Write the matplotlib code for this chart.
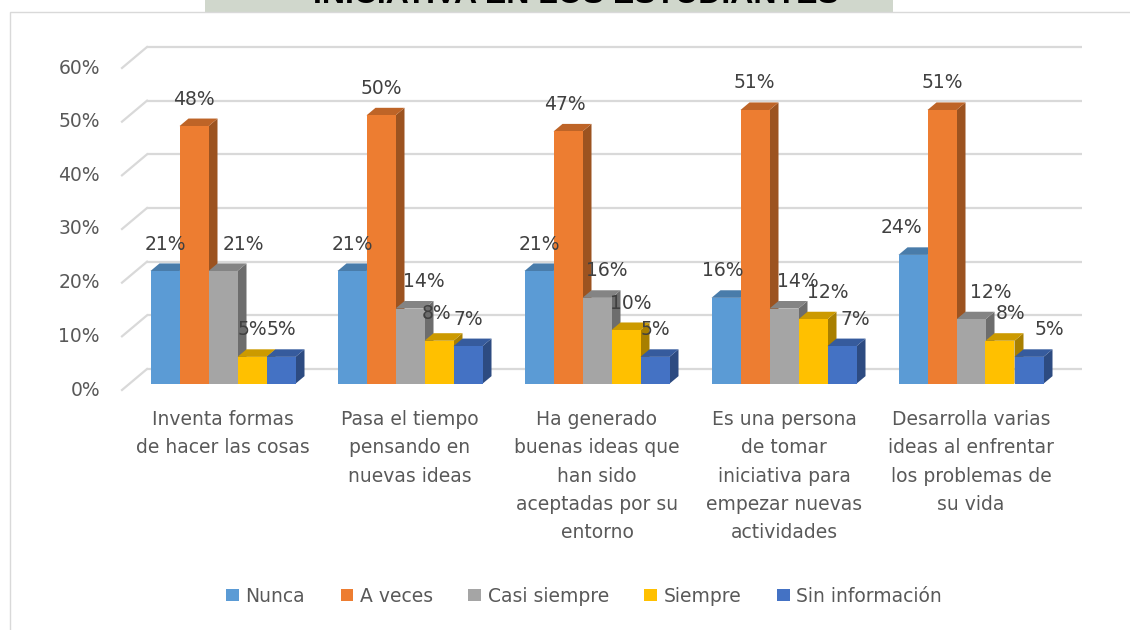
import numpy as np
import matplotlib
matplotlib.use("Agg")
import matplotlib.pyplot as plt
from matplotlib.patches import Polygon, Rectangle, Patch

# Data
categories = ["Inventa formas\nde hacer las cosas",
              "Pasa el tiempo\npensando en\nnuevas ideas",
              "Ha generado\nbuenas ideas que\nhan sido\naceptadas por su\nentorno",
              "Es una persona\nde tomar\niniciativa para\nempezar nuevas\nactividades",
              "Desarrolla varias\nideas al enfrentar\nlos problemas de\nsu vida"]
series = ["Nunca", "A veces", "Casi siempre", "Siempre", "Sin información"]
nunca = [21, 21, 21, 16, 24]
a_veces = [48, 50, 47, 51, 51]
casi_siempre = [21, 14, 16, 14, 12]
siempre = [5, 8, 10, 12, 8]
sin_info = [5, 7, 5, 7, 5]
yticks = [0, 10, 20, 30, 40, 50, 60]

values = [nunca, a_veces, casi_siempre, siempre, sin_info]
colors = ["#5B9BD5", "#ED7D31", "#A5A5A5", "#FFC000", "#4472C4"]

# label nudges (pixels), like Excel moved them to avoid overlaps
nudge = [[0, 0, 0, -3, -12],
         [0, 0, -3, -1, 0],
         [20, 14, 10, 14, 20],
         [0, -2, 5, 15, 11],
         [0, 0, 0, 13, 20]]

def shade(c, f):
    r, g, b = matplotlib.colors.to_rgb(c)
    return (r * f, g * f, b * f)

W, H = 1130, 630
fig = plt.figure(figsize=(W / 100, H / 100), dpi=100)
fig.patch.set_facecolor("white")

# faded header image strip with the cut title
fig.patches.append(Rectangle((205 / W, 1 - 12 / H), 688 / W, 12 / H,
                             transform=fig.transFigure, facecolor="#d0d7cc",
                             edgecolor="none", zorder=-2))
fig.text(576 / W, 1 - 3 / H, "INICIATIVA EN LOS ESTUDIANTES", ha="center",
         va="baseline", fontsize=23, fontweight="bold",
         family="Liberation Sans", color="black", zorder=-1)
# chart border
fig.patches.append(Rectangle((10 / W, -0.01), 1.02, 1 - 12 / H + 0.01,
                             transform=fig.transFigure, facecolor="white",
                             edgecolor="#d9d9d9", lw=1, zorder=-0.5))

# front plane of the 3d box
px_left, px_right, px_top, px_bot = 122, 1057, 68, 390
ax = fig.add_axes([px_left / W, 1 - px_bot / H, (px_right - px_left) / W,
                   (px_bot - px_top) / H])
ax.set_xlim(0, 5)
ax.set_ylim(0, 60)
ax.axis("off")
ax.patch.set_alpha(0)

xpx = (px_right - px_left) / 5.0
ypx = (px_bot - px_top) / 60.0
DX = 25 / xpx       # depth offset of the back wall
DY = 21 / ypx
d0, d1 = 0.3, 0.66  # bar front / back depth
w = 29 / xpx

# gridlines on back wall + left wall diagonals
for t in yticks:
    ax.plot([DX, 5 + DX], [t + DY, t + DY], color="#d9d9d9", lw=1.6,
            clip_on=False, zorder=1, solid_capstyle="butt")
    ax.plot([0, DX], [t, t + DY], color="#d9d9d9", lw=1.6,
            clip_on=False, zorder=1)
    ax.text(-22 / xpx, t, f"{t}%", ha="right", va="center", fontsize=13.5,
            color="#595959", family="DejaVu Sans")

base = d0 * DY
dx = (d1 - d0) * DX
dy = (d1 - d0) * DY
z = 2
for i in range(len(categories)):
    for j in range(len(series)):
        v = values[j][i]
        xl = i + 0.5 - 2.5 * w + j * w + d0 * DX
        c = colors[j]
        side = Polygon([(xl + w, base), (xl + w, base + v),
                        (xl + w + dx, base + v + dy), (xl + w + dx, base + dy)],
                       closed=True, facecolor=shade(c, 0.66), edgecolor="none",
                       zorder=z, clip_on=False)
        top = Polygon([(xl, base + v), (xl + w, base + v),
                       (xl + w + dx, base + v + dy), (xl + dx, base + v + dy)],
                      closed=True, facecolor=shade(c, 0.8), edgecolor="none",
                      zorder=z, clip_on=False)
        ax.add_patch(side)
        ax.add_patch(top)
        ax.bar(xl, v, width=w, bottom=base, align="edge", color=c,
               zorder=z + 0.5, clip_on=False)
        z += 1
        ax.text(xl + w / 2 + nudge[j][i] / xpx, base + v + 27 / ypx, f"{v}%",
                ha="center", va="center", fontsize=13.5, color="#404040",
                family="DejaVu Sans", zorder=200)
    ax.text(i + 0.5 + d0 * DX, base - 26 / ypx, categories[i], ha="center",
            va="top", fontsize=13.5, color="#595959", family="DejaVu Sans",
            linespacing=1.63)

handles = [Patch(facecolor=c, edgecolor="none") for c in colors]
fig.legend(handles, series, loc="center", bbox_to_anchor=(584 / W, 1 - 596 / H),
           ncol=5, frameon=False, handlelength=0.67,
           handleheight=0.67, handletextpad=0.35, columnspacing=1.9,
           labelcolor="#595959", prop={"family": "DejaVu Sans", "size": 13.5})

fig.savefig("out.png", dpi=100)
